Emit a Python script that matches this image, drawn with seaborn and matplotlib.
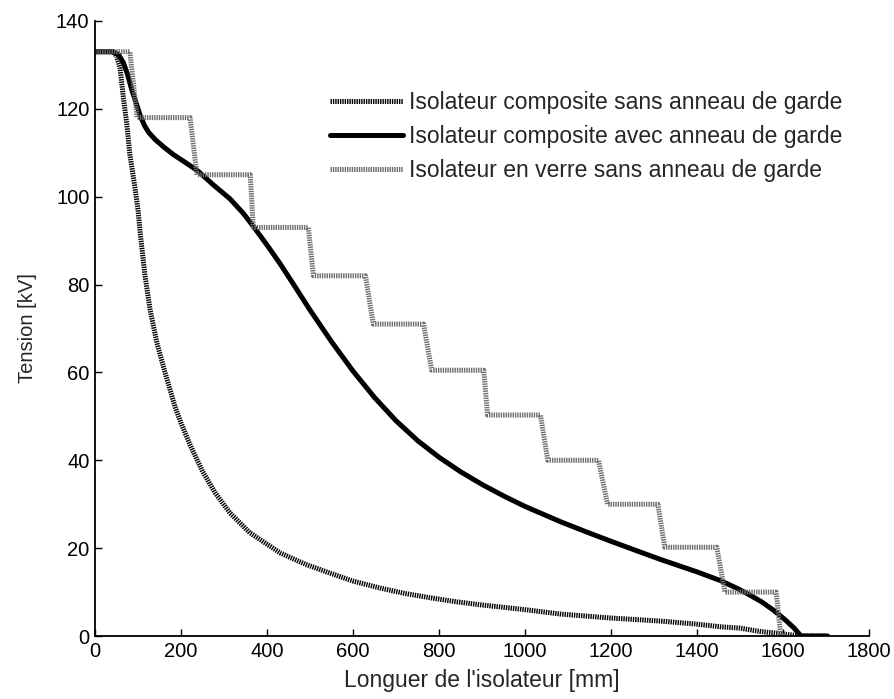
import matplotlib
matplotlib.use("Agg")
import matplotlib.pyplot as plt
import seaborn as sns
import pandas as pd

# ---- data ----
sans_x = [0, 42, 50, 58, 66, 74, 81, 93, 100, 105, 116, 128, 144, 163, 186, 200, 221, 250, 280, 314,
          360, 431, 490, 547, 600, 664, 720, 780, 840, 897, 1000, 1083, 1199, 1316, 1400, 1455, 1500,
          1549, 1600, 1640, 1700]
sans_y = [133, 133, 132, 129.4, 122.5, 116.4, 109.6, 102, 97, 91.8, 82.2, 74.3, 66.7, 59.9, 52.2, 48.5,
          43.5, 37.5, 32.5, 28, 23.5, 18.9, 16.3, 14.3, 12.5, 10.9, 9.7, 8.7, 7.8, 7.1, 6.0, 5.0, 4.1,
          3.4, 2.7, 2.1, 1.8, 1.0, 0.5, 0, 0]

avec_x = [0, 42, 55, 66, 75, 85, 95, 105, 115, 125, 140, 160, 182, 210, 240, 275, 314, 345, 370, 400,
          430, 460, 500, 550, 600, 650, 700, 750, 800, 850, 900, 950, 1000, 1083, 1140, 1199, 1260,
          1316, 1400, 1455, 1490, 1518, 1550, 1579, 1605, 1626, 1642, 1704]
avec_y = [133, 133, 132.3, 130.5, 128, 124.5, 121.5, 118.5, 116.2, 114.6, 113.0, 111.3, 109.6, 107.8,
          105.8, 102.7, 99.5, 96.2, 93, 89, 84.8, 80.3, 74.2, 67.0, 60.3, 54.3, 49.0, 44.5, 40.7, 37.4,
          34.5, 31.9, 29.5, 26, 23.8, 21.6, 19.4, 17.4, 14.6, 12.6, 11, 9.6, 7.8, 5.8, 3.7, 1.8, 0, 0]

verre_x = [0, 81, 98, 221, 237, 361, 368, 496, 508, 629, 647, 764, 783, 904, 913, 1036, 1053, 1171,
           1192, 1309, 1325, 1446, 1465, 1584, 1595, 1610]
verre_y = [133, 133, 118, 118, 105, 105, 93, 93, 82, 82, 71, 71, 60.5, 60.5, 50.3, 50.3, 40, 40,
           30, 30, 20.2, 20.2, 10, 10, 0, 0]

labels = ["Isolateur composite sans anneau de garde",
          "Isolateur composite avec anneau de garde",
          "Isolateur en verre sans anneau de garde"]

xticks = [0, 200, 400, 600, 800, 1000, 1200, 1400, 1600, 1800]
yticks = [0, 20, 40, 60, 80, 100, 120, 140]

sns.set_theme(style="ticks")
plt.rcParams["font.family"] = ["Liberation Sans", "DejaVu Sans"]
plt.rcParams["lines.scale_dashes"] = False

fig = plt.figure(figsize=(8.94, 6.99), dpi=100)
ax = fig.add_axes([0.1063, 0.0901, 0.8657, 0.8799])

d1 = pd.DataFrame({"x": sans_x, "y": sans_y})
d2 = pd.DataFrame({"x": avec_x, "y": avec_y})
d3 = pd.DataFrame({"x": verre_x, "y": verre_y})

sns.lineplot(data=d1, x="x", y="y", ax=ax, sort=False, estimator=None, color="black",
             lw=3.6, label=labels[0])
ax.lines[-1].set_dashes((1.0, 0.7))
ax.lines[-1].set_dash_capstyle("butt")
sns.lineplot(data=d2, x="x", y="y", ax=ax, sort=False, estimator=None, color="black",
             lw=3.6, label=labels[1])
sns.lineplot(data=d3, x="x", y="y", ax=ax, sort=False, estimator=None, color="#6e6e6e",
             lw=3.6, label=labels[2])
ax.lines[-1].set_dashes((1.0, 0.7))
ax.lines[-1].set_dash_capstyle("butt")

ax.set_xlim(0, 1800)
ax.set_ylim(0, 140)
ax.set_xticks(xticks)
ax.set_yticks(yticks)
ax.tick_params(direction="in", length=5, width=1, labelsize=14.5, colors="black", pad=4)
for s in ["top", "right"]:
    ax.spines[s].set_visible(False)
for s in ["left", "bottom"]:
    ax.spines[s].set_color("black")
    ax.spines[s].set_linewidth(1.3)
ax.set_xlabel("Longuer de l'isolateur [mm]", fontsize=16.5, labelpad=6)
ax.set_ylabel("Tension [kV]", fontsize=14.5, labelpad=14)

leg = ax.legend(loc="upper left", bbox_to_anchor=(0.3036, 0.886), frameon=False, fontsize=16.5,
                handlelength=3.2, handletextpad=0.26, labelspacing=0.48, borderpad=0,
                borderaxespad=0)
for h in leg.get_lines():
    h.set_linewidth(3.6)

fig.savefig("out.png", dpi=100)
